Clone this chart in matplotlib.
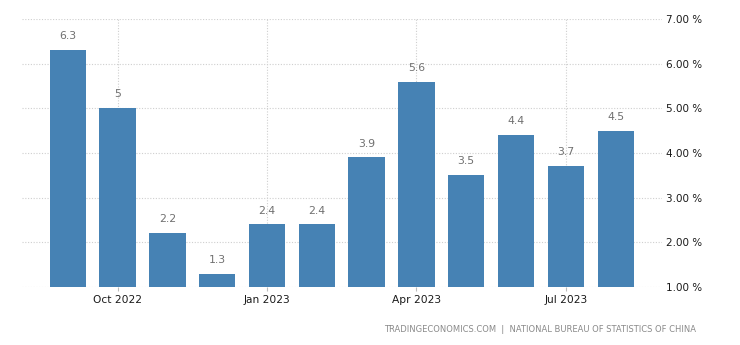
import numpy as np
import matplotlib
matplotlib.use('Agg')
import matplotlib.pyplot as plt

plt.rcParams['font.family'] = ['DejaVu Sans']

# Monthly values, Sep 2022 .. Aug 2023
months = ['Sep 2022', 'Oct 2022', 'Nov 2022', 'Dec 2022', 'Jan 2023', 'Feb 2023',
          'Mar 2023', 'Apr 2023', 'May 2023', 'Jun 2023', 'Jul 2023', 'Aug 2023']
values = [6.3, 5.0, 2.2, 1.3, 2.4, 2.4, 3.9, 5.6, 3.5, 4.4, 3.7, 4.5]
value_labels = ['6.3', '5', '2.2', '1.3', '2.4', '2.4', '3.9', '5.6', '3.5', '4.4', '3.7', '4.5']
tick_months = ['Oct 2022', 'Jan 2023', 'Apr 2023', 'Jul 2023']
y_ticks = [1, 2, 3, 4, 5, 6, 7]

BAR = '#4682b4'
GRID = '#cfcfcf'

fig = plt.figure(figsize=(7.4, 3.45), dpi=100)
ax = fig.add_axes([22 / 740, 1 - 287 / 345, (662 - 22) / 740, (287 - 19) / 345])

x = np.arange(len(months))
base = 1.0
ax.bar(x, np.array(values) - base, bottom=base, width=0.73, color=BAR, zorder=3)

for xi, v, lab in zip(x, values, value_labels):
    ax.text(xi, v + 0.2, lab, ha='center', va='bottom', fontsize=7.8,
            color='#707070', zorder=4)

ax.set_xlim(-0.92, 11.93)
ax.set_ylim(1, 7)

tick_pos = [months.index(m) for m in tick_months]
ax.set_xticks(tick_pos)
ax.set_xticklabels(tick_months, fontsize=7.7, color='#1a1a1a')
ax.tick_params(axis='x', length=3, color='#bbbbbb', pad=3)

ax.yaxis.tick_right()
ax.set_yticks(y_ticks)
ax.set_yticklabels(['%.2f %%' % t for t in y_ticks], fontsize=7.5, color='#1a1a1a')
ax.tick_params(axis='y', length=0, pad=3)

ax.grid(True, axis='both', color=GRID, linestyle=(0, (1, 1.5)), linewidth=0.8, zorder=0)
for s in ax.spines.values():
    s.set_visible(False)

fig.text(696 / 740, 1 - 329 / 345,
         'TRADINGECONOMICS.COM  |  NATIONAL BUREAU OF STATISTICS OF CHINA',
         ha='right', va='center', fontsize=6.0, color='#8a8a8a')

fig.savefig('out.png', dpi=100)
